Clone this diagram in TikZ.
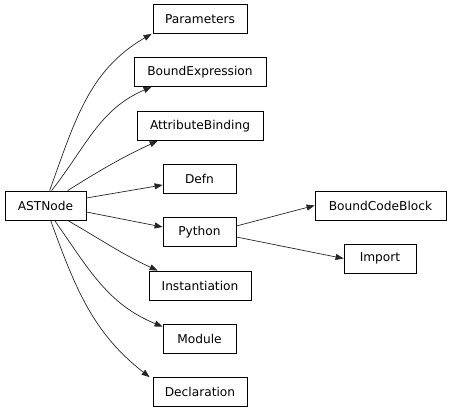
\documentclass[tikz,border=0pt]{standalone}
\usepackage{fontspec}
\setmainfont{DejaVu Sans}
\usetikzlibrary{arrows.meta}
\begin{document}
\begin{tikzpicture}[x=1pt,y=-1pt,
  cls/.style={draw=black,line width=0.8pt,fill=white,minimum height=29pt,inner sep=0pt,
    font=\fontsize{12.2pt}{14pt}\selectfont},
  edge/.style={draw=black!85,line width=0.7pt,-{Triangle[length=8pt,width=6pt]}}]
\useasboundingbox (0,0) rectangle (451,415);
\node[cls,minimum width=94pt]  (P)  at (200,19)    {Parameters};
\node[cls,minimum width=132pt] (BE) at (200,72)    {BoundExpression};
\node[cls,minimum width=126pt] (AB) at (200,126)   {AttributeBinding};
\node[cls,minimum width=73pt]  (D)  at (199.5,178.5) {Defn};
\node[cls,minimum width=81pt]  (A)  at (45.5,205.5) {ASTNode};
\node[cls,minimum width=73pt]  (Py) at (199.5,232) {Python};
\node[cls,minimum width=102pt] (I)  at (200,285.5) {Instantiation};
\node[cls,minimum width=73pt]  (M)  at (199.5,338.5) {Module};
\node[cls,minimum width=94pt]  (De) at (200,392)   {Declaration};
\node[cls,minimum width=131pt] (BC) at (380.5,205.5) {BoundCodeBlock};
\node[cls,minimum width=72pt]  (Im) at (380,258.5) {Import};
\draw[edge] ([xshift=45pt]A.north west) to[out=70,in=210] ([xshift=-1pt]P.south west);
\draw[edge] ([xshift=47pt]A.north west) to[out=52,in=203] ([xshift=18pt]BE.south west);
\draw[edge] ([xshift=63pt]A.north west) to[out=32,in=205] ([xshift=21pt]AB.south west);
\draw[edge] ([yshift=7.5pt]A.east) -- ([yshift=-6.5pt]D.west);
\draw[edge] ([yshift=-6.5pt]A.east) -- ([yshift=5pt]Py.west);
\draw[edge] ([xshift=63pt]A.south west) to[out=-30,in=155] ([xshift=9pt]I.north west);
\draw[edge] ([xshift=50pt]A.south west) to[out=-55,in=158] ([yshift=-3pt]M.north west);
\draw[edge] ([xshift=46pt]A.south west) to[out=-70,in=142] ([xshift=-3pt]De.north west);
\draw[edge] ([yshift=6pt]Py.east) -- (BC.west);
\draw[edge] ([yshift=-5pt]Py.east) -- (Im.west);
\end{tikzpicture}
\end{document}
